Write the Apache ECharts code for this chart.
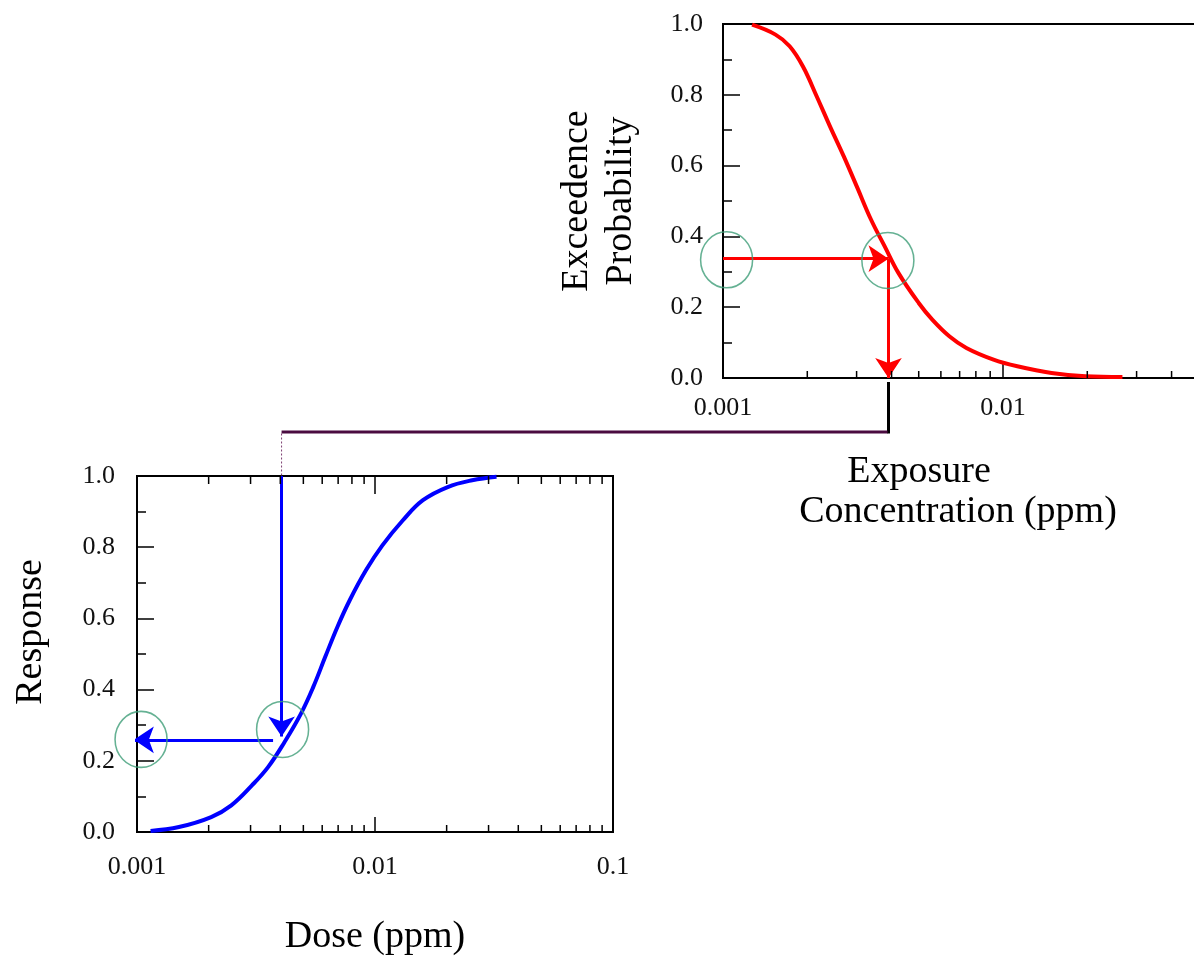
<!DOCTYPE html>
<html><head><meta charset="utf-8">
<script src="https://cdn.jsdelivr.net/npm/echarts@6/dist/echarts.min.js"></script>
<style>html,body{margin:0;padding:0;background:#fff;overflow:hidden}#c{width:1194px;height:958px}</style>
</head><body><div id="c"></div>
<script>
// ---- data ----
const exposureX  = [0.00127,0.00154,0.00173,0.00193,0.00216,0.00241,0.0027,0.00302,0.00338,0.00378,0.00423,0.005,0.00559,0.00643,0.0074,0.00925,0.01125,0.0149,0.0197,0.0267];
const exceedProb = [0.998,0.970,0.937,0.880,0.796,0.711,0.626,0.537,0.447,0.372,0.297,0.212,0.165,0.118,0.085,0.052,0.033,0.014,0.005,0.003];
const doseX      = [0.00114,0.0015,0.00205,0.00249,0.00304,0.00356,0.00417,0.00488,0.0055,0.00618,0.00695,0.00783,0.00916,0.01074,0.01307,0.0159,0.0202,0.0256,0.0324];
const responseY  = [0.003,0.014,0.042,0.075,0.131,0.183,0.253,0.332,0.407,0.492,0.576,0.651,0.735,0.805,0.875,0.932,0.969,0.988,0.998];
// arrows
const redArrowH  = [[0.001,0.337],[0.0039,0.337]];
const redArrowV  = [[0.0039,0.337],[0.0039,0]];
const blueArrowV = [[0.00405,1.0],[0.00405,0.268]];
const blueArrowH = [[0.00373,0.259],[0.00097,0.259]];
// green circles
const topCircles    = [[0.00103,0.334],[0.00388,0.332]];
const bottomCircles = [[0.00104,0.260],[0.00409,0.288]];
// connector between the two charts
const exposureMark = 0.0039;
const doseMark = 0.00405;
// ticks and labels
const minorTickValues = [0.002,0.003,0.004,0.005,0.006,0.007,0.008,0.009,0.02,0.03,0.04,0.05,0.06,0.07,0.08,0.09];
const logTickLabels = {'-3':'0.001','-2':'0.01','-1':'0.1'};
const yTickValues = ['0.0','0.2','0.4','0.6','0.8','1.0'];
const labelsText = {
  exceed: 'Exceedence\nProbability',
  exposure1: 'Exposure',
  exposure2: 'Concentration (ppm)',
  response: 'Response',
  dose: 'Dose (ppm)'
};

const FONT = 'Liberation Serif';
const chart = echarts.init(document.getElementById('c'), null, {renderer:'canvas'});

function logFmt(v){
  const e = Math.log10(v), k = Math.round(e);
  if (Math.abs(e - k) > 1e-6) return '';
  return logTickLabels[String(k)] || '';
}
function yFmt(v){ return yTickValues[Math.round(v/0.2)] || ''; }

function minorTickSeries(xi, yi, yEdge, dir, len){
  return {
    type:'custom', xAxisIndex:xi, yAxisIndex:yi, silent:true, z:5,
    data: minorTickValues.map(v => [v, yEdge]),
    renderItem: (params, api) => {
      const p = api.coord([api.value(0), api.value(1)]);
      return {type:'line', shape:{x1:p[0], y1:p[1], x2:p[0], y2:p[1] + dir*len},
              style:{stroke:'#000', lineWidth:1.5}};
    }
  };
}
function arrowSeries(xi, yi, color, segs, w){
  return {
    type:'lines', coordinateSystem:'cartesian2d', xAxisIndex:xi, yAxisIndex:yi,
    symbol:['none','arrow'], symbolSize:20, silent:true, z:4,
    lineStyle:{color:color, width:w, opacity:1, curveness:0},
    data: segs.map(s => ({coords:s}))
  };
}
function circleSeries(xi, yi, pts){
  return {
    type:'scatter', xAxisIndex:xi, yAxisIndex:yi, silent:true, z:6,
    symbol:'circle', symbolSize:[52,56],
    itemStyle:{color:'rgba(0,0,0,0)', borderColor:'#3f9e78', borderWidth:1.6},
    data: pts
  };
}
const axisLine = {show:true, lineStyle:{color:'#000', width:2}};
const tickLabel = {color:'#111', fontFamily:FONT, fontSize:26};

const option = {
  animation:false,
  backgroundColor:'#fff',
  grid:[
    {left:723, top:24, width:560, height:354, show:true, borderColor:'#000', borderWidth:2, backgroundColor:'transparent', outerBoundsMode:'none', containLabel:false},
    {left:137, top:476, width:476, height:356, show:true, borderColor:'#000', borderWidth:2, backgroundColor:'transparent', outerBoundsMode:'none', containLabel:false}
  ],
  xAxis:[
    {gridIndex:0, type:'log', logBase:10, min:0.001, max:0.1, position:'bottom',
     axisLine, splitLine:{show:false},
     axisTick:{show:true, inside:true, length:16, lineStyle:{color:'#000', width:1.5}},
     axisLabel:Object.assign({margin:17, formatter:logFmt}, tickLabel)},
    {gridIndex:1, type:'log', logBase:10, min:0.001, max:0.1, position:'bottom',
     axisLine, splitLine:{show:false},
     axisTick:{show:true, inside:true, length:15, lineStyle:{color:'#000', width:1.5}},
     axisLabel:Object.assign({margin:22, formatter:logFmt}, tickLabel),
     name:labelsText.dose, nameLocation:'middle', nameGap:86,
     nameTextStyle:{fontFamily:FONT, fontSize:38, color:'#000'}},
    {gridIndex:1, type:'log', logBase:10, min:0.001, max:0.1, position:'top',
     axisLine, splitLine:{show:false},
     axisTick:{show:true, inside:true, length:18, lineStyle:{color:'#000', width:1.5}},
     axisLabel:{show:false}}
  ],
  yAxis:[
    {gridIndex:0, type:'value', min:0, max:1, interval:0.2, position:'left',
     axisLine, splitLine:{show:false},
     axisTick:{show:true, inside:true, length:17, lineStyle:{color:'#000', width:1.5}},
     minorTick:{show:true, splitNumber:2, length:9, lineStyle:{color:'#000', width:1.5}},
     axisLabel:Object.assign({margin:20, formatter:yFmt}, tickLabel),
     name:labelsText.exceed, nameLocation:'middle', nameGap:80, nameRotate:90,
     nameTextStyle:{fontFamily:FONT, fontSize:38, lineHeight:44, color:'#000'}},
    {gridIndex:1, type:'value', min:0, max:1, interval:0.2, position:'left',
     axisLine, splitLine:{show:false},
     axisTick:{show:true, inside:true, length:17, lineStyle:{color:'#000', width:1.5}},
     minorTick:{show:true, splitNumber:2, length:9, lineStyle:{color:'#000', width:1.5}},
     axisLabel:Object.assign({margin:22, formatter:yFmt}, tickLabel),
     name:labelsText.response, nameLocation:'middle', nameGap:87, nameRotate:90,
     nameTextStyle:{fontFamily:FONT, fontSize:38, color:'#000', padding:[0,0,0,44]}}
  ],
  series:[
    {type:'line', xAxisIndex:0, yAxisIndex:0, smooth:0.4, symbol:'none', silent:true, z:3,
     lineStyle:{color:'#ff0000', width:4}, data: exposureX.map((x,i)=>[x, exceedProb[i]])},
    {type:'line', xAxisIndex:1, yAxisIndex:1, smooth:0.4, symbol:'none', silent:true, z:3,
     lineStyle:{color:'#0000ff', width:4}, data: doseX.map((x,i)=>[x, responseY[i]])},
    arrowSeries(0,0,'#ff0000',[redArrowH, redArrowV],3),
    arrowSeries(1,1,'#0000ff',[blueArrowV, blueArrowH],3),
    circleSeries(0,0,topCircles),
    circleSeries(1,1,bottomCircles),
    minorTickSeries(0,0,0,-1,7),
    minorTickSeries(1,1,0,-1,7),
    minorTickSeries(2,1,1,1,8)
  ]
};
chart.setOption(option);

// connector + exposure axis title (positions derived from the library's scales)
const topPt = chart.convertToPixel({gridIndex:0}, [exposureMark, 0]);
const botPt = chart.convertToPixel({gridIndex:1}, [doseMark, 1]);
const linkY = topPt[1] + 54;
chart.setOption({
  graphic:[
    {type:'line', silent:true, z:10, shape:{x1:topPt[0], y1:topPt[1]+4, x2:topPt[0], y2:linkY+1.5}, style:{stroke:'#000', lineWidth:3}},
    {type:'line', silent:true, z:10, shape:{x1:topPt[0]-1, y1:linkY, x2:botPt[0], y2:linkY}, style:{stroke:'#4a0b40', lineWidth:3}},
    {type:'line', silent:true, z:10, shape:{x1:botPt[0], y1:linkY+1.5, x2:botPt[0], y2:botPt[1]}, style:{stroke:'#7b3d70', lineWidth:1, lineDash:[2,2]}},
    {type:'text', silent:true, x:919, y:472, style:{text:labelsText.exposure1, font:'38px "Liberation Serif"', fill:'#000', textAlign:'center', textVerticalAlign:'middle'}},
    {type:'text', silent:true, x:958, y:512, style:{text:labelsText.exposure2, font:'38px "Liberation Serif"', fill:'#000', textAlign:'center', textVerticalAlign:'middle'}}
  ]
});
</script>
</body></html>
